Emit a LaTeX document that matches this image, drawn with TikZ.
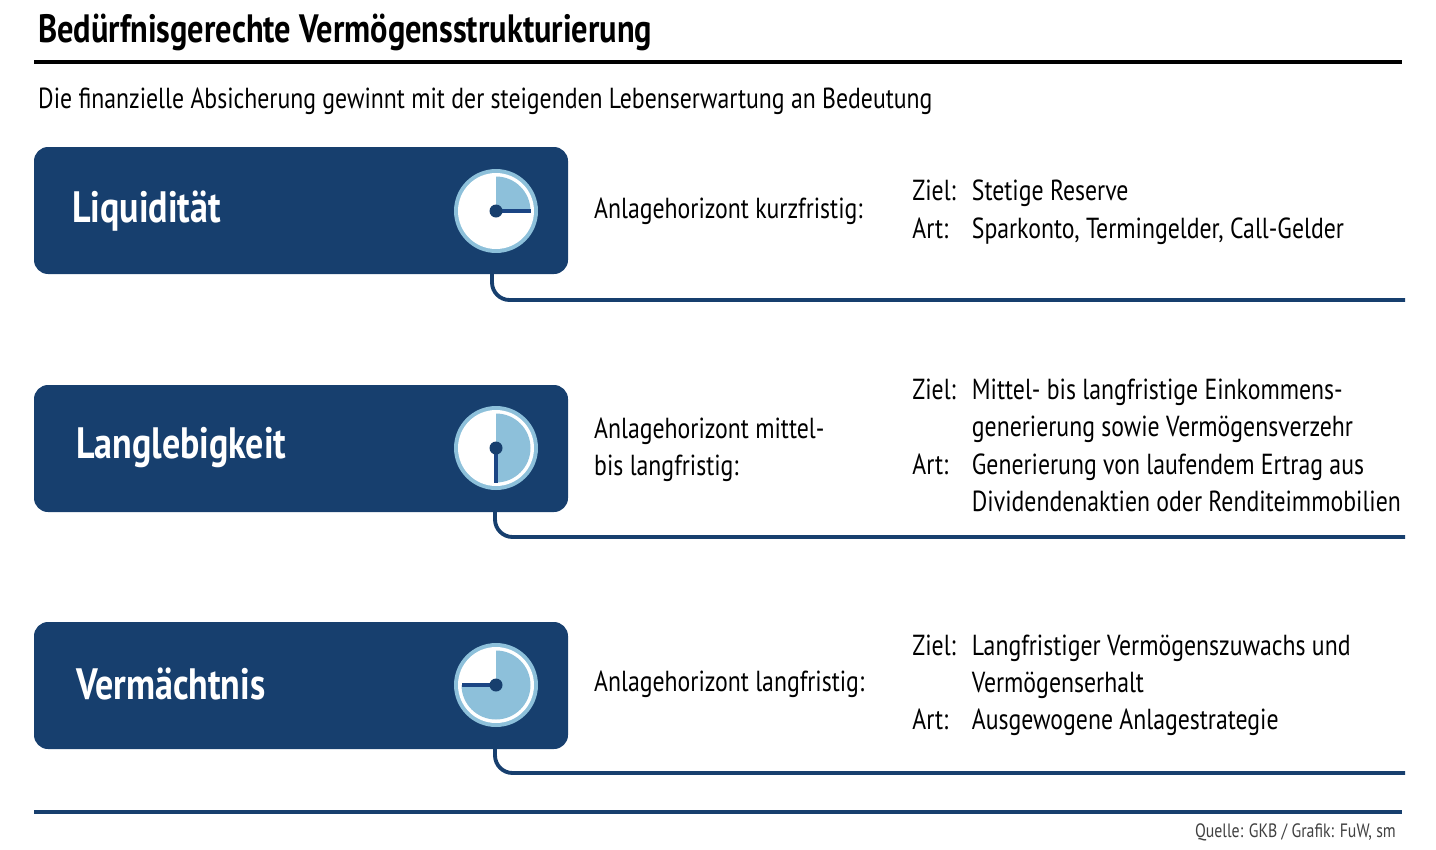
\documentclass[tikz,border=0pt]{standalone}
\usepackage{fontspec}
\setmainfont{PT Sans}[FakeStretch=0.82]
\usetikzlibrary{positioning}
\definecolor{fuwblue}{HTML}{173F6E}
\definecolor{fuwlight}{HTML}{8DC0DA}
\definecolor{fuwhand}{HTML}{1B4584}
\tikzset{
  pillarbox/.style={fill=fuwblue, rounded corners=8pt},
  pillarlabel/.style={anchor=west, text=white, font=\bfseries\fontsize{25}{27}\selectfont},
  bodytext/.style={anchor=west, font=\fontsize{16.5}{21.2}\selectfont, align=left},
  rowline/.style={draw=fuwblue, line width=2.2pt, rounded corners=10pt}
}
\newcommand{\clockface}[3]{% centre, start angle, end angle of sector
  \begin{scope}[shift={#1}, x=1cm, y=1cm]
    \fill[fuwlight] (0,0) circle (0.84);
    \fill[white] (0,0) circle (0.76);
    \fill[fuwlight] (0,0) -- (#2:0.69) arc[start angle=#2, end angle=#3, radius=0.69] -- cycle;
    \draw[fuwhand, line width=2pt] (0,0) -- (#3:0.69);
    \fill[fuwblue] (0,0) circle (0.13);
  \end{scope}
}
\newcommand{\zielart}[2]{\begin{tabular}{@{}l@{\hspace{0.32cm}}l@{}}#1\end{tabular}}
\begin{document}
\begin{tikzpicture}[x=0.02cm, y=-0.02cm]
  \useasboundingbox (0,0) rectangle (1436,849);
  % Title and subtitle
  \node[anchor=west, font=\bfseries\fontsize{22.5}{25}\selectfont] (title) at (32,32) {Bedürfnisgerechte Vermögensstrukturierung};
  \draw[line width=2.5pt] (34,62) -- (1402,62);
  \node[anchor=west, font=\fontsize{16.5}{19}\selectfont] (sub) at (32,101) {Die finanzielle Absicherung gewinnt mit der steigenden Lebenserwartung an Bedeutung};

  % Row 1
  \fill[pillarbox] (34,147) rectangle (568,274);
  \node[pillarlabel] (liq) at (66,211) {Liquidität};
  \clockface{(496,211)}{90}{0}
  \draw[rowline] (492,274) -- (492,300) -- (1405,300);
  \node[bodytext] (liqh) at (588,211) {Anlagehorizont kurzfristig:};
  \node[bodytext, inner sep=0pt] (liqt) at (912,212) {\zielart{Ziel: & Stetige Reserve\\Art: & Sparkonto, Termingelder, Call-Gelder}{}};

  % Row 2
  \fill[pillarbox] (34,385) rectangle (568,512);
  \node[pillarlabel] (lang) at (70,448) {Langlebigkeit};
  \clockface{(496,448)}{90}{-90}
  \draw[rowline] (495,512) -- (495,537) -- (1405,537);
  \node[bodytext] (langh) at (588,450) {Anlagehorizont mittel-\\bis langfristig:};
  \node[bodytext, inner sep=0pt] (langt) at (912,448) {\zielart{Ziel: & Mittel- bis langfristige Einkommens-\\ & generierung sowie Vermögensverzehr\\Art: & Generierung von laufendem Ertrag aus\\ & Dividendenaktien oder Renditeimmobilien}{}};

  % Row 3
  \fill[pillarbox] (34,622) rectangle (568,749);
  \node[pillarlabel] (verm) at (70,684) {Vermächtnis};
  \clockface{(496,685)}{90}{-180}
  \draw[rowline] (495,749) -- (495,773) -- (1405,773);
  \node[bodytext] (vermh) at (588,684) {Anlagehorizont langfristig:};
  \node[bodytext, inner sep=0pt] (vermt) at (912,685) {\zielart{Ziel: & Langfristiger Vermögenszuwachs und\\ & Vermögenserhalt\\Art: & Ausgewogene Anlagestrategie}{}};

  % Footer
  \draw[fuwblue, line width=2.5pt] (34,812) -- (1402,812);
  \node[anchor=east, font=\fontsize{11}{13}\selectfont, text=black!75] (src) at (1402,832) {Quelle: GKB / Grafik: FuW, sm};
\end{tikzpicture}
\end{document}
